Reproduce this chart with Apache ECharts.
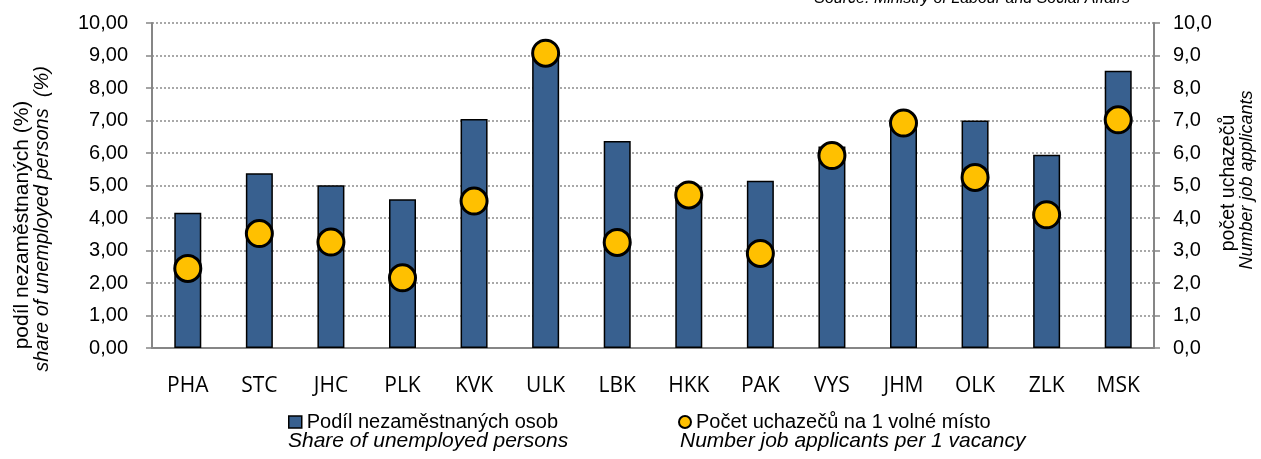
<!DOCTYPE html>
<html>
<head>
<meta charset="utf-8">
<script src="https://cdn.jsdelivr.net/npm/echarts@6/dist/echarts.min.js"></script>
<style>
  html, body { margin: 0; padding: 0; background: #fff; }
  #chart { width: 1261px; height: 459px; }
</style>
</head>
<body>
<div id="chart"></div>
<script>
// kraje
const regions = ['PHA', 'STC', 'JHC', 'PLK', 'KVK', 'ULK', 'LBK', 'HKK', 'PAK', 'VYS', 'JHM', 'OLK', 'ZLK', 'MSK']
// podíl nezaměstnaných osob (%)
const shareUnemployed = [4.16, 5.38, 5.01, 4.58, 7.05, 8.92, 6.37, 4.96, 5.15, 6.20, 6.95, 7.00, 5.95, 8.53]
// počet uchazečů na 1 volné místo
const applicantsPerVacancy = [2.45, 3.52, 3.26, 2.16, 4.52, 9.07, 3.25, 4.71, 2.91, 5.92, 6.92, 5.25, 4.10, 7.02]

const barName = 'Podíl nezaměstnaných osob'
const dotName = 'Počet uchazečů na 1 volné místo'

const axisGray = '#868686'
const font = 'Liberation Sans, Arial, sans-serif'

const myChart = echarts.init(document.getElementById('chart'))

const option = {
  backgroundColor: '#fff',
  animation: false,
  grid: {
    left: 152,
    right: 107,
    top: 23,
    bottom: 111
  },
  legend: [
    {
      data: [{ name: barName, icon: 'rect' }],
      left: 283,
      top: 407,
      itemWidth: 13,
      itemHeight: 12,
      itemStyle: { borderWidth: 1.5, borderColor: '#000' },
      textStyle: { fontFamily: font, fontSize: 20, color: '#000' }
    },
    {
      data: [{ name: dotName, icon: 'circle' }],
      left: 673,
      top: 407,
      itemWidth: 12,
      itemHeight: 12,
      itemStyle: { borderWidth: 2, borderColor: '#000' },
      textStyle: { fontFamily: font, fontSize: 20, color: '#000' }
    }
  ],
  xAxis: {
    type: 'category',
    data: regions,
    axisLine: { lineStyle: { color: axisGray, width: 2 } },
    axisTick: { length: 7, lineStyle: { color: axisGray, width: 1.5 } },
    axisLabel: {
      margin: 28,
      color: '#000',
      fontFamily: 'Open Sans, sans-serif',
      fontSize: 21
    }
  },
  yAxis: [
    {
      type: 'value',
      min: 0,
      max: 10,
      interval: 1,
      axisLine: { show: true, lineStyle: { color: axisGray, width: 2 } },
      axisTick: { show: true, length: 6, lineStyle: { color: axisGray, width: 1.5 } },
      axisLabel: {
        margin: 24,
        color: '#000',
        fontFamily: font,
        fontSize: 20,
        formatter: v => v.toFixed(2).replace('.', ',')
      },
      splitLine: {
        show: true,
        lineStyle: { color: '#8c8c8c', width: 1.5, type: [2, 2] }
      }
    },
    {
      type: 'value',
      min: 0,
      max: 10,
      interval: 1,
      position: 'right',
      axisLine: { show: true, lineStyle: { color: axisGray, width: 2 } },
      axisTick: { show: true, length: 6, lineStyle: { color: axisGray, width: 1.5 } },
      axisLabel: {
        margin: 19,
        color: '#000',
        fontFamily: font,
        fontSize: 20,
        formatter: v => v.toFixed(1).replace('.', ',')
      },
      splitLine: { show: false }
    }
  ],
  series: [
    {
      name: barName,
      type: 'bar',
      yAxisIndex: 0,
      data: shareUnemployed,
      barWidth: 27,
      itemStyle: {
        color: '#38608f',
        borderColor: '#000',
        borderWidth: 1.5
      }
    },
    {
      name: dotName,
      type: 'scatter',
      yAxisIndex: 1,
      data: applicantsPerVacancy,
      symbol: 'circle',
      symbolSize: 26,
      z: 5,
      itemStyle: {
        color: '#ffc000',
        borderColor: '#000',
        borderWidth: 3,
        opacity: 1
      }
    }
  ],
  graphic: [
    {
      type: 'text',
      right: 131,
      top: -9,
      style: {
        text: 'Source: Ministry of Labour and Social Affairs',
        font: 'italic 16px ' + font,
        fill: '#000'
      }
    },
    {
      type: 'text',
      x: 22,
      y: 225,
      rotation: Math.PI / 2,
      style: {
        text: 'podíl nezaměstnaných (%)',
        font: '21px ' + font,
        fill: '#000',
        align: 'center',
        verticalAlign: 'middle'
      }
    },
    {
      type: 'text',
      x: 42,
      y: 219,
      rotation: Math.PI / 2,
      style: {
        text: 'share of unemployed persons  (%)',
        font: 'italic 20px ' + font,
        fill: '#000',
        align: 'center',
        verticalAlign: 'middle'
      }
    },
    {
      type: 'text',
      x: 1229,
      y: 183,
      rotation: Math.PI / 2,
      style: {
        text: 'počet uchazečů',
        font: '19.5px ' + font,
        fill: '#000',
        align: 'center',
        verticalAlign: 'middle'
      }
    },
    {
      type: 'text',
      x: 1247,
      y: 180,
      rotation: Math.PI / 2,
      style: {
        text: 'Number job applicants',
        font: 'italic 18px ' + font,
        fill: '#000',
        align: 'center',
        verticalAlign: 'middle'
      }
    },
    {
      type: 'text',
      x: 288,
      y: 441,
      style: {
        text: 'Share of unemployed persons',
        font: 'italic 21px ' + font,
        fill: '#000',
        verticalAlign: 'middle'
      }
    },
    {
      type: 'text',
      x: 680,
      y: 441,
      style: {
        text: 'Number job applicants per 1 vacancy',
        font: 'italic 21px ' + font,
        fill: '#000',
        verticalAlign: 'middle'
      }
    }
  ]
}

option && myChart.setOption(option)
</script>
</body>
</html>
